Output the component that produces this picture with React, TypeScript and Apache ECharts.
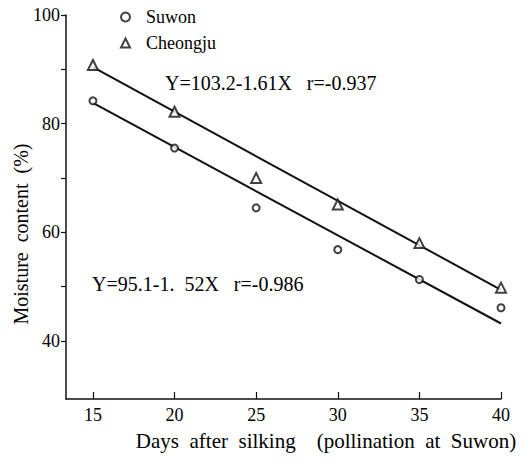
import React, { useEffect, useRef } from "react";
import * as echarts from "echarts";

const xTicks = [15, 20, 25, 30, 35, 40];
const yTicks = [40, 50, 60, 70, 80, 90, 100];
const yLabels = [40, 60, 80, 100];
const suwon: [number, number][] = [
  [15, 84.2], [20, 75.5], [25, 64.5], [30, 56.8], [35, 51.3], [40, 46.1],
];
const cheongju: [number, number][] = [
  [15, 90.8], [20, 82.2], [25, 70.0], [30, 65.1], [35, 58.0], [40, 49.8],
];
const suwonFit: [number, number][] = [[15, 83.8], [40, 43.2]];
const cheongjuFit: [number, number][] = [[15, 90.4], [40, 49.4]];
const eqCheongju = "Y=103.2-1.61X   r=-0.937";
const eqSuwon = "Y=95.1-1.  52X   r=-0.986";

const serif = "'Liberation Serif', 'DejaVu Serif', serif";

export default function App() {
  const ref = useRef<HTMLDivElement>(null);
  useEffect(() => {
    if (!ref.current) return;
    const chart = echarts.init(ref.current, undefined, { renderer: "svg" });
    chart.setOption({
      animation: false,
      backgroundColor: "#fff",
      grid: { left: 66, top: 15, right: 24, bottom: 63 },
      legend: {
        data: ["Suwon", "Cheongju"],
        orient: "vertical",
        left: 115,
        top: 3,
        itemGap: 8,
        itemWidth: 9,
        itemHeight: 9,
        textStyle: {
          fontFamily: serif,
          fontSize: 18,
          color: "#000",
          padding: [0, 0, 0, 11],
        },
      },
      xAxis: {
        type: "value",
        min: 13.35,
        max: 40,
        splitLine: { show: false },
        axisLine: { lineStyle: { color: "#111", width: 1.5 } },
        axisTick: {
          inside: true,
          length: 7,
          customValues: xTicks,
          lineStyle: { color: "#111", width: 1.2 },
        },
        axisLabel: {
          customValues: xTicks,
          fontFamily: serif,
          fontSize: 18,
          color: "#000",
          margin: 7,
        },
      },
      yAxis: {
        type: "value",
        min: 29.3,
        max: 100,
        splitLine: { show: false },
        axisLine: { lineStyle: { color: "#111", width: 1.5 } },
        axisTick: {
          length: 5,
          customValues: yTicks,
          lineStyle: { color: "#111", width: 1.2 },
        },
        axisLabel: {
          customValues: yLabels,
          fontFamily: serif,
          fontSize: 18,
          color: "#000",
          margin: 6,
        },
      },
      series: [
        {
          name: "Suwon",
          type: "scatter",
          data: suwon,
          symbol: "emptyCircle",
          symbolSize: 7,
          itemStyle: { color: "#111", borderColor: "#111", borderWidth: 1.5 },
          z: 3,
        },
        {
          name: "Cheongju",
          type: "scatter",
          data: cheongju,
          symbol: "emptyTriangle",
          symbolSize: 10,
          itemStyle: { color: "#111", borderColor: "#111", borderWidth: 1.5 },
          z: 3,
        },
        {
          type: "line",
          data: suwonFit,
          symbol: "none",
          lineStyle: { color: "#111", width: 2 },
          z: 2,
        },
        {
          type: "line",
          data: cheongjuFit,
          symbol: "none",
          lineStyle: { color: "#111", width: 2 },
          z: 2,
        },
      ],
      graphic: [
        {
          type: "text",
          left: 165,
          top: 73,
          style: { text: eqCheongju, font: `20px ${serif}`, fill: "#000" },
        },
        {
          type: "text",
          left: 92,
          top: 274,
          style: { text: eqSuwon, font: `20px ${serif}`, fill: "#000" },
        },
        {
          type: "text",
          x: 326,
          y: 441,
          style: {
            text: "Days  after  silking    (pollination  at  Suwon)",
            font: `21px ${serif}`,
            fill: "#000",
            align: "center",
            verticalAlign: "middle",
          },
        },
        {
          type: "text",
          x: 21,
          y: 234,
          rotation: Math.PI / 2,
          style: {
            text: "Moisture  content  (%)",
            font: `20px ${serif}`,
            fill: "#000",
            align: "center",
            verticalAlign: "middle",
          },
        },
      ],
    });
    return () => chart.dispose();
  }, []);
  return <div ref={ref} style={{ width: 525, height: 462, margin: -8 }} />;
}
